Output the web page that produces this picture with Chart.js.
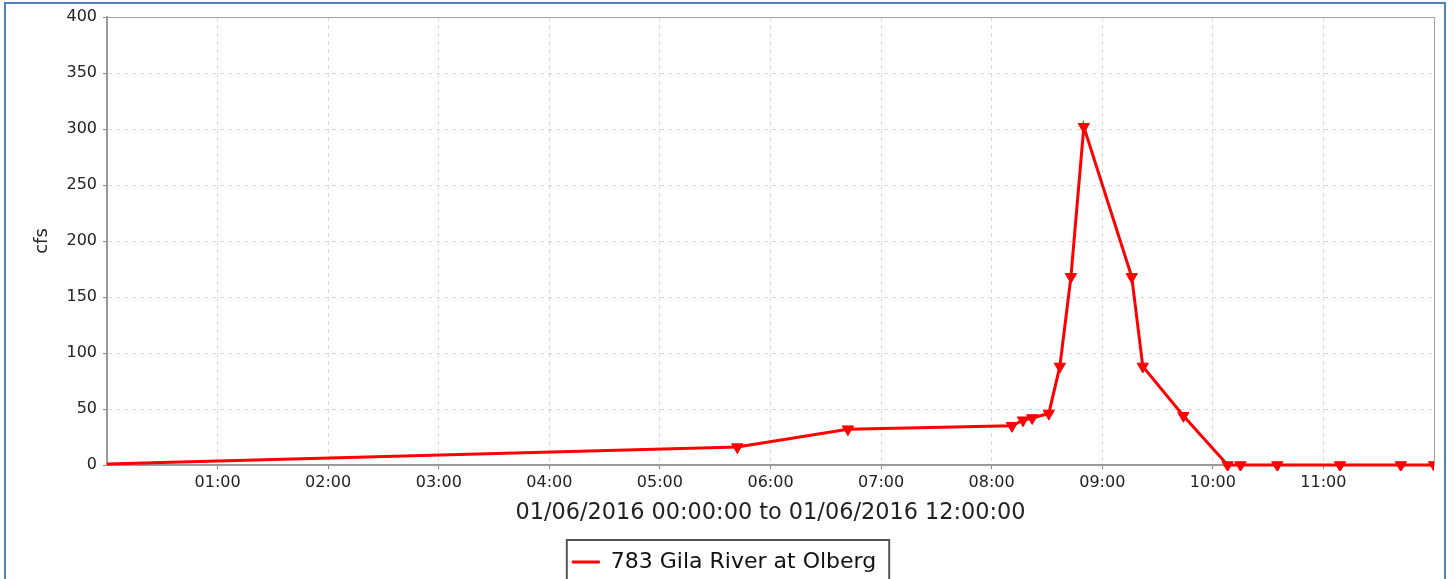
<!DOCTYPE html>
<html>
<head>
<meta charset="utf-8">
<script src="https://cdn.jsdelivr.net/npm/chart.js@4.4.1/dist/chart.umd.min.js"></script>
<style>
  html, body { margin: 0; padding: 0; background: #fff; overflow: hidden; }
  #frame {
    position: absolute; left: 4px; top: 2px; width: 1442px; height: 620px;
    border: 2px solid #4f81bd; box-sizing: border-box;
  }
  #wrap { position: absolute; left: 0; top: 0; width: 1455px; height: 600px; }
</style>
</head>
<body>
<div id="frame"></div>
<div id="wrap"><canvas id="flowChart"></canvas></div>
<script>
// --- dados ---
const timeLabels = ['00:00', '05:42', '06:42', '08:11', '08:17', '08:22', '08:31', '08:37', '08:43',
                    '08:50', '09:16', '09:22', '09:44', '10:08', '10:15', '10:35', '11:09', '11:42', '12:00'];
const flowCfs = [1, 16, 32, 35, 40, 42, 46, 88, 168, 302, 168, 88, 44, 0, 0, 0, 0, 0, 0];
const hourTicks = ['01:00', '02:00', '03:00', '04:00', '05:00', '06:00', '07:00', '08:00', '09:00', '10:00', '11:00'];
const yTicks = [0, 50, 100, 150, 200, 250, 300, 350, 400];
const seriesName = '783 Gila River at Olberg';
const xTitle = '01/06/2016 00:00:00 to 01/06/2016 12:00:00';
const yTitle = 'cfs';

// "HH:MM" -> horas decimais
function toHours(t) {
    const p = t.split(':');
    return Number(p[0]) + Number(p[1]) / 60;
}

const points = timeLabels.map((t, i) => ({ x: toHours(t), y: flowCfs[i] }));

// borda da área do gráfico + caixa da legenda
const framePlugin = {
    id: 'framePlugin',
    afterDraw(chart) {
        const ctx = chart.ctx;
        const a = chart.chartArea;
        ctx.save();
        ctx.strokeStyle = '#a0a0a0';
        ctx.lineWidth = 1;
        ctx.beginPath();
        ctx.moveTo(a.left, a.top + 0.5);
        ctx.lineTo(a.right + 0.5, a.top + 0.5);
        ctx.lineTo(a.right + 0.5, a.bottom);
        ctx.stroke();

        const lg = chart.legend;
        if (lg && lg.legendHitBoxes && lg.legendHitBoxes.length) {
            const b = lg.legendHitBoxes[0];
            ctx.strokeStyle = '#555';
            ctx.lineWidth = 2;
            ctx.strokeRect(b.left - 5, b.top - 11, b.width + 18, b.height + 40);
        }
        ctx.restore();
    }
};

const ctx = document.getElementById('flowChart').getContext('2d');

new Chart(ctx, {
    type: 'line',
    data: {
        datasets: [{
            label: seriesName,
            data: points,
            borderColor: '#ff0000',
            backgroundColor: '#ff0000',
            borderWidth: 3,
            tension: 0,
            pointStyle: 'triangle',
            rotation: 180,
            pointRadius: points.map((p, i) => i === 0 ? 0 : 6.5),
            pointBorderWidth: 1,
            clip: { left: 0, right: 0, top: 6, bottom: 6 }
        }]
    },
    options: {
        responsive: true,
        maintainAspectRatio: false,
        animation: false,
        layout: { padding: { top: 17, left: 14, right: 21, bottom: 17 } },
        plugins: {
            tooltip: { enabled: false },
            legend: {
                display: true,
                position: 'bottom',
                labels: {
                    color: '#111',
                    font: { family: 'DejaVu Sans', size: 22 },
                    usePointStyle: true,
                    pointStyle: 'line',
                    pointStyleWidth: 28,
                    padding: 24,
                    generateLabels(chart) {
                        const items = Chart.defaults.plugins.legend.labels.generateLabels(chart);
                        items.forEach(it => {
                            it.lineWidth = 3;
                            it.strokeStyle = '#ff0000';
                            it.pointStyle = 'line';
                        });
                        return items;
                    }
                }
            }
        },
        scales: {
            x: {
                type: 'linear',
                min: 0,
                max: 12,
                afterBuildTicks(scale) {
                    scale.ticks = hourTicks.map(h => ({ value: toHours(h) }));
                },
                afterFit(scale) { scale.height = 62; },
                ticks: {
                    color: '#222',
                    font: { family: 'DejaVu Sans', size: 16 },
                    padding: 4,
                    maxRotation: 0,
                    autoSkip: false,
                    callback: (v) => {
                        const h = Math.round(v);
                        return (h < 10 ? '0' : '') + h + ':00';
                    }
                },
                grid: { color: '#d8d8d8', tickColor: '#888', tickLength: 4 },
                border: { color: '#999', width: 2, dash: [4, 4] },
                title: {
                    display: true,
                    text: xTitle,
                    color: '#222',
                    font: { family: 'DejaVu Sans', size: 22.4 },
                    padding: { top: 2, bottom: 0 }
                }
            },
            y: {
                min: 0,
                max: 400,
                afterBuildTicks(scale) {
                    scale.ticks = yTicks.map(v => ({ value: v }));
                },
                afterFit(scale) { scale.width = 93; },
                ticks: {
                    color: '#222',
                    font: { family: 'DejaVu Sans', size: 16 },
                    padding: 6
                },
                grid: { color: '#d8d8d8', tickColor: '#888', tickLength: 4 },
                border: { color: '#999', width: 2, dash: [4, 4] },
                title: {
                    display: true,
                    text: yTitle,
                    color: '#222',
                    font: { family: 'DejaVu Sans', size: 18 },
                    padding: { top: 18, bottom: 0 }
                }
            }
        }
    },
    plugins: [framePlugin]
});
</script>
</body>
</html>
